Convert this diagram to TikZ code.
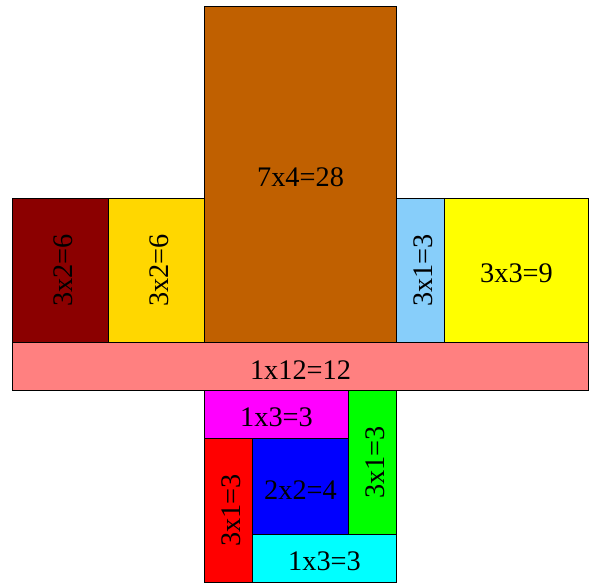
\documentclass[tikz,border=0pt]{standalone}
\usepackage{fontspec}
\setmainfont{Liberation Serif}
\definecolor{cBrown}{RGB}{192,96,0}
\definecolor{cDark}{RGB}{139,0,0}
\definecolor{cGold}{RGB}{255,215,0}
\definecolor{cSky}{RGB}{135,206,250}
\definecolor{cYel}{RGB}{255,255,0}
\definecolor{cSal}{RGB}{255,128,128}
\definecolor{cMag}{RGB}{255,0,255}
\definecolor{cGrn}{RGB}{0,255,0}
\definecolor{cRed}{RGB}{255,0,0}
\definecolor{cBlu}{RGB}{0,0,255}
\definecolor{cCyn}{RGB}{0,255,255}
\tikzset{
  tile/.style={draw=black, line width=0.6pt, inner sep=0pt, anchor=south west},
  lblh/.style={inner sep=0pt, yshift=-0.065cm, font=\fontsize{16.8}{20}\selectfont},
  lblv/.style={inner sep=0pt, xshift=0.065cm, rotate=90, font=\fontsize{16.8}{20}\selectfont},
}
\newcommand{\tileat}[8]{% name, x, y, w, h, color, label style, text
  \node[tile, fill=#6, minimum width=#4cm, minimum height=#5cm] (#1) at (#2,#3) {};
  \node[#7] (#1t) at (#1.center) {#8};
}
\begin{document}
\begin{tikzpicture}
\useasboundingbox (-0.25,-0.042) rectangle (12.021,12.146);
\tileat{a}{4}{5}{4}{7}{cBrown}{lblh}{7x4=28}
\tileat{b}{0}{5}{2}{3}{cDark}{lblv}{3x2=6}
\tileat{c}{2}{5}{2}{3}{cGold}{lblv}{3x2=6}
\tileat{d}{8}{5}{1}{3}{cSky}{lblv}{3x1=3}
\tileat{e}{9}{5}{3}{3}{cYel}{lblh}{3x3=9}
\tileat{f}{0}{4}{12}{1}{cSal}{lblh}{1x12=12}
\tileat{g}{4}{3}{3}{1}{cMag}{lblh}{1x3=3}
\tileat{h}{7}{1}{1}{3}{cGrn}{lblv}{3x1=3}
\tileat{i}{4}{0}{1}{3}{cRed}{lblv}{3x1=3}
\tileat{j}{5}{1}{2}{2}{cBlu}{lblh}{2x2=4}
\tileat{k}{5}{0}{3}{1}{cCyn}{lblh}{1x3=3}
\end{tikzpicture}
\end{document}
